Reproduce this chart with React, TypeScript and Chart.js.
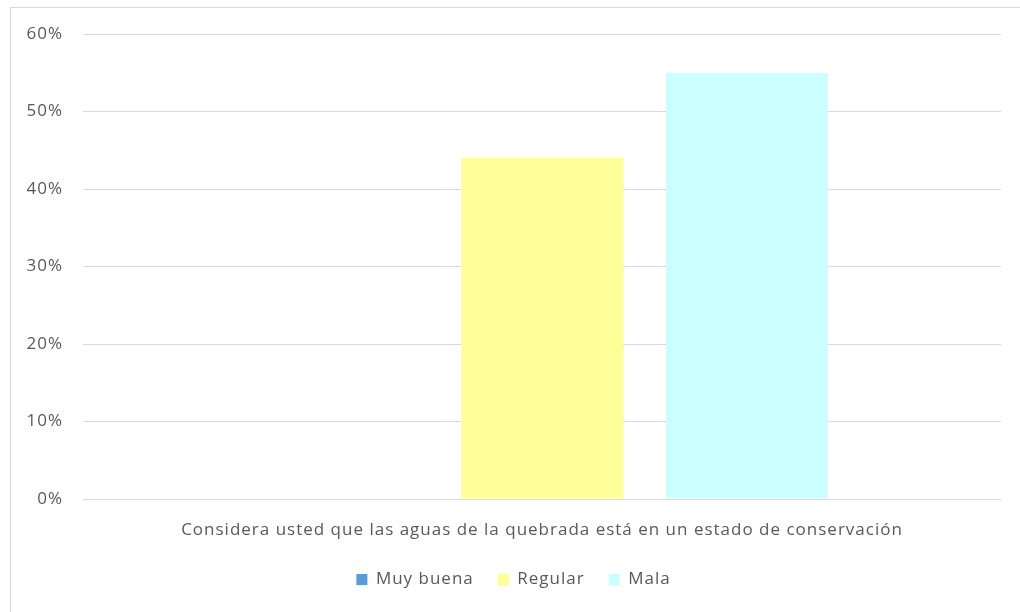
import React, { useEffect, useRef } from "react";
import { Chart, registerables } from "chart.js";

Chart.register(...registerables);

const categories = ["Considera usted que las aguas de la quebrada está en un estado de conservación"];
const seriesNames = ["Muy buena", "Regular", "Mala"];
const seriesValues = [[0], [44], [55]];
const seriesColors = ["#5B9BD5", "#FFFF99", "#CCFFFF"];
const yTicks = [0, 10, 20, 30, 40, 50, 60];

const FONT = "'Open Sans', sans-serif";
const LEGEND_HEIGHT = 57;

const spacingPlugin = {
  id: "spacing",
  afterInit(chart: any) {
    const lg = chart.legend;
    if (lg && !lg.__patched) {
      const orig = lg.fit;
      lg.fit = function () {
        orig.call(this);
        this.height = LEGEND_HEIGHT;
      };
      lg.__patched = true;
    }
  },
  beforeUpdate(chart: any) {
    chart.ctx.letterSpacing = "1px";
  },
  beforeLayout(chart: any) {
    chart.ctx.letterSpacing = "1px";
  },
  beforeDraw(chart: any) {
    chart.ctx.letterSpacing = "1px";
  },
};

export default function App() {
  const ref = useRef<HTMLCanvasElement | null>(null);
  useEffect(() => {
    if (!ref.current) return;
    const chart = new Chart(ref.current, {
      type: "bar",
      plugins: [spacingPlugin],
      data: {
        labels: categories,
        datasets: seriesNames.map((n, i) => ({
          label: n,
          data: seriesValues[i],
          backgroundColor: seriesColors[i],
          borderWidth: 0,
          categoryPercentage: 0.67,
          barPercentage: 0.79,
        })),
      },
      options: {
        animation: false,
        responsive: true,
        maintainAspectRatio: false,
        layout: { padding: { left: 15, right: 18, top: 26, bottom: 10 } },
        plugins: {
          legend: {
            position: "bottom",
            labels: {
              boxWidth: 11,
              boxHeight: 11,
              color: "#595959",
              font: { family: FONT, size: 17 },
              padding: 24,
            },
          },
          tooltip: { enabled: false },
        },
        scales: {
          x: {
            grid: { display: false, drawTicks: false },
            border: { display: false },
            ticks: { color: "#595959", font: { family: FONT, size: 17 }, padding: 21, maxRotation: 0 },
            afterFit: (scale: any) => {
              scale.paddingLeft = 0;
              scale.paddingRight = 0;
              scale.height = 48;
            },
          },
          y: {
            min: 0,
            max: 60,
            afterBuildTicks: (axis: any) => {
              axis.ticks = yTicks.map((v) => ({ value: v }));
            },
            afterFit: (scale: any) => {
              scale.width = 57;
              scale.paddingTop = 0;
              scale.paddingBottom = 0;
            },
            grid: { color: "#D9D9D9", lineWidth: 1, drawTicks: false },
            border: { display: false },
            ticks: {
              color: "#595959",
              font: { family: FONT, size: 17 },
              padding: 20,
              callback: (v: any) => v + "%",
            },
          },
        },
      },
    });
    chart.update();
    return () => chart.destroy();
  }, []);
  return (
    <div
      style={{
        position: "absolute",
        left: 10,
        top: 7,
        width: 1020,
        height: 620,
        border: "1px solid #D9D9D9",
        boxSizing: "border-box",
        background: "#fff",
      }}
    >
      <div style={{ position: "absolute", left: 0, top: 0, width: 1008, height: 606 }}>
        <canvas ref={ref} />
      </div>
    </div>
  );
}
